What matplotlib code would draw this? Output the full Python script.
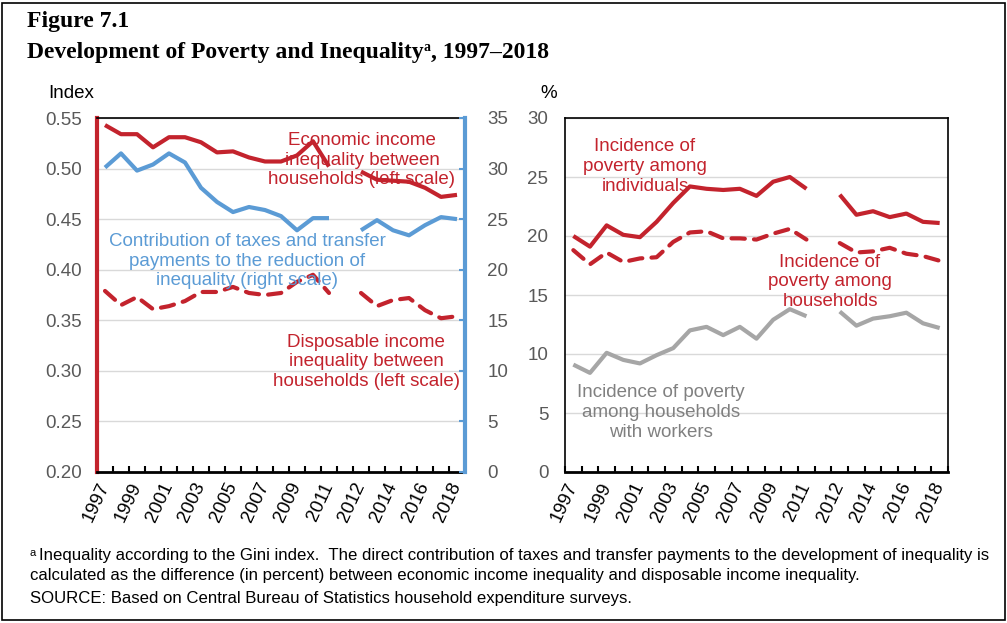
import numpy as np
import matplotlib.pyplot as plt
from matplotlib.patches import Rectangle

nan = np.nan

years = ['1997', '1998', '1999', '2000', '2001', '2002', '2003', '2004',
         '2005', '2006', '2007', '2008', '2009', '2010', '2011', '',
         '2012', '2013', '2014', '2015', '2016', '2017', '2018']

# left panel, Gini index (left scale)
econ_ineq = [0.543, 0.534, 0.534, 0.521, 0.531, 0.531, 0.526, 0.516, 0.517, 0.511,
             0.507, 0.507, 0.513, 0.527, 0.502, nan,
             0.497, 0.489, 0.488, 0.487, 0.481, 0.472, 0.474]
disp_ineq = [0.379, 0.365, 0.373, 0.361, 0.364, 0.369, 0.378, 0.378, 0.383, 0.377,
             0.375, 0.377, 0.388, 0.395, 0.377, nan,
             0.377, 0.364, 0.370, 0.372, 0.360, 0.352, 0.354]
# left panel, percent (right scale)
tax_contrib = [30.1, 31.5, 29.8, 30.4, 31.5, 30.6, 28.1, 26.7, 25.7, 26.2,
               25.9, 25.3, 23.9, 25.1, 25.1, nan,
               23.9, 24.9, 23.9, 23.4, 24.4, 25.2, 25.0]

# right panel, percent
pov_individuals = [20.0, 19.1, 20.9, 20.1, 19.9, 21.2, 22.8, 24.2, 24.0, 23.9,
                   24.0, 23.4, 24.6, 25.0, 24.0, nan,
                   23.5, 21.8, 22.1, 21.6, 21.9, 21.2, 21.1]
pov_households = [18.8, 17.6, 18.6, 17.8, 18.1, 18.2, 19.5, 20.3, 20.4, 19.8,
                  19.8, 19.7, 20.2, 20.6, 19.7, nan,
                  19.4, 18.6, 18.7, 19.0, 18.5, 18.3, 17.9]
pov_workers = [9.1, 8.4, 10.1, 9.5, 9.2, 9.9, 10.5, 12.0, 12.3, 11.6,
               12.3, 11.3, 12.9, 13.8, 13.2, nan,
               13.6, 12.4, 13.0, 13.2, 13.5, 12.6, 12.2]

RED = '#C3232D'
BLUE = '#5B9BD5'
GRAY = '#A6A6A6'
TXT_GRAY = '#808080'
TICK_GRAY = '#595959'
GRID = '#D9D9D9'

plt.rcParams['font.family'] = ['Liberation Sans', 'DejaVu Sans']
FS = 13.5
LS = 1.22

W, H = 1007, 623
fig = plt.figure(figsize=(W / 100, H / 100), dpi=100)

x = np.arange(len(years))


def setup_xaxis(ax):
    ax.set_xlim(-0.5, len(years) - 0.5)
    ax.set_xticks(x[::2])
    ax.set_xticklabels(years[::2], rotation=65, ha='right', va='center',
                       rotation_mode='anchor', fontsize=FS, color='black')
    ax.set_xticks(np.arange(-0.5, len(years), 1), minor=True)
    ax.tick_params(axis='x', which='major', length=0, pad=8)
    ax.tick_params(axis='x', which='minor', direction='in', length=4,
                   width=1.5, color='black')


# ---- left panel
ax = fig.add_axes([97 / W, 1 - 472 / H, 368 / W, 354 / H])
ax2 = ax.twinx()

ax.plot(x, econ_ineq, color=RED, lw=3, solid_joinstyle='round', solid_capstyle='butt')
ax.plot(x, disp_ineq, color=RED, lw=3, dashes=(3.2, 2.2), dash_capstyle='round')
ax2.plot(x, tax_contrib, color=BLUE, lw=3, solid_joinstyle='round', solid_capstyle='butt')

setup_xaxis(ax)
ax.set_ylim(0.20, 0.55)
ax.set_yticks(np.arange(0.20, 0.551, 0.05))
ax.set_yticklabels(['%.2f' % v for v in np.arange(0.20, 0.551, 0.05)])
ax.tick_params(axis='y', length=0, pad=11, labelsize=FS, labelcolor=TICK_GRAY)
ax.yaxis.grid(True, color=GRID, lw=1)
ax.set_axisbelow(True)

ax2.set_ylim(0, 35)
ax2.set_yticks(np.arange(0, 36, 5))
ax2.tick_params(axis='y', direction='in', length=4, width=1.5, color=BLUE,
                pad=16, labelsize=FS, labelcolor=TICK_GRAY)

ax.spines['left'].set_color(RED)
ax.spines['left'].set_linewidth(3)
ax.spines['right'].set_visible(False)
ax.spines['top'].set_linewidth(1.2)
ax.spines['bottom'].set_linewidth(2)
ax2.spines['right'].set_color(BLUE)
ax2.spines['right'].set_linewidth(3)
for s in ['left', 'top', 'bottom']:
    ax2.spines[s].set_visible(False)

ax.text(0.720, 0.881, 'Economic income\ninequality between\nhouseholds (left scale)',
        transform=ax.transAxes, ha='center', va='center', color=RED, fontsize=FS,
        linespacing=LS)
ax.text(0.408, 0.596, 'Contribution of taxes and transfer\npayments to the reduction of\ninequality (right scale)',
        transform=ax.transAxes, ha='center', va='center', color=BLUE, fontsize=FS,
        linespacing=LS)
ax.text(0.731, 0.311, 'Disposable income\ninequality between\nhouseholds (left scale)',
        transform=ax.transAxes, ha='center', va='center', color=RED, fontsize=FS,
        linespacing=LS)

# ---- right panel
ax3 = fig.add_axes([565 / W, 1 - 472 / H, 383 / W, 354 / H])
ax3.plot(x, pov_individuals, color=RED, lw=3, solid_joinstyle='round', solid_capstyle='butt')
ax3.plot(x, pov_households, color=RED, lw=3, dashes=(3.2, 2.2), dash_capstyle='round')
ax3.plot(x, pov_workers, color=GRAY, lw=3, solid_joinstyle='round', solid_capstyle='butt')

setup_xaxis(ax3)
ax3.set_ylim(0, 30)
ax3.set_yticks(np.arange(0, 31, 5))
ax3.tick_params(axis='y', length=0, pad=12, labelsize=FS, labelcolor=TICK_GRAY)
ax3.yaxis.grid(True, color=GRID, lw=1)
ax3.set_axisbelow(True)
for s in ['left', 'right', 'top']:
    ax3.spines[s].set_linewidth(1.2)
ax3.spines['bottom'].set_linewidth(2)

ax3.text(0.209, 0.862, 'Incidence of\npoverty among\nindividuals', transform=ax3.transAxes,
         ha='center', va='center', color=RED, fontsize=FS, linespacing=LS)
ax3.text(0.692, 0.537, 'Incidence of\npoverty among\nhouseholds', transform=ax3.transAxes,
         ha='center', va='center', color=RED, fontsize=FS, linespacing=LS)
ax3.text(0.251, 0.169, 'Incidence of poverty\namong households\nwith workers', transform=ax3.transAxes,
         ha='center', va='center', color=TXT_GRAY, fontsize=FS, linespacing=LS)

# ---- axis unit labels
fig.text(48 / W, 1 - 93 / H, 'Index', ha='left', va='center', fontsize=FS, color='black')
fig.text(540 / W, 1 - 93 / H, '%', ha='left', va='center', fontsize=FS, color='black')

# ---- titles
serif = ['Liberation Serif', 'DejaVu Serif']
fig.text(27 / W, 1 - 27 / H, 'Figure 7.1', family=serif, weight='bold', fontsize=17,
         va='baseline')
renderer = fig.canvas.get_renderer()
y_t = 1 - 58 / H
t1 = fig.text(27 / W, y_t, 'Development of Poverty and Inequality', family=serif,
              weight='bold', fontsize=17, va='baseline')
bb = t1.get_window_extent(renderer)
t2 = fig.text(bb.x1 / W, y_t + 7 / H, 'a', family=serif, weight='bold', fontsize=10,
              va='baseline')
bb = t2.get_window_extent(renderer)
fig.text(bb.x1 / W, y_t, ', 1997\u20132018', family=serif, weight='bold', fontsize=17,
         va='baseline')

# ---- footnotes
FN = 12.1
y_f = 1 - 560 / H
f1 = fig.text(30 / W, y_f + 4 / H, 'a', fontsize=8, va='baseline')
bb = f1.get_window_extent(renderer)
fig.text(bb.x1 / W + 3 / W, y_f,
         'Inequality according to the Gini index.  The direct contribution of taxes and '
         'transfer payments to the development of inequality is',
         fontsize=FN, va='baseline')
fig.text(30 / W, 1 - 580 / H,
         'calculated as the difference (in percent) between economic income inequality '
         'and disposable income inequality.', fontsize=FN, va='baseline')
fig.text(30 / W, 1 - 603 / H,
         'SOURCE: Based on Central Bureau of Statistics household expenditure surveys.',
         fontsize=FN, va='baseline')

# outer frame
fig.patches.append(Rectangle((2 / W, 3 / H), 1003 / W, 617 / H, transform=fig.transFigure,
                             fill=False, edgecolor='black', lw=1.2))

fig.savefig('out.png', dpi=100)
